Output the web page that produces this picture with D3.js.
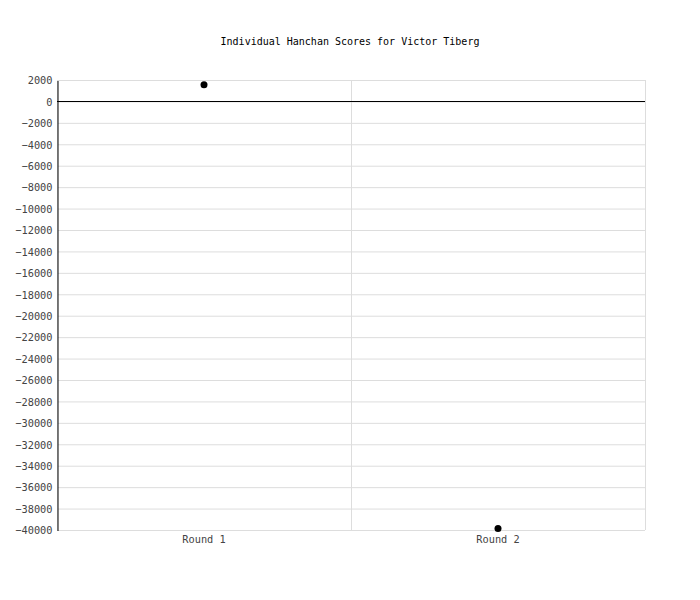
<!DOCTYPE html>
<html>
<head>
<meta charset="utf-8">
<script src="https://cdn.jsdelivr.net/npm/d3@7"></script>
<style>
  body { margin: 0; background: #fff; }
  text { font-family: "DejaVu Sans Mono", "Liberation Mono", monospace; }
</style>
</head>
<body>
<svg id="chart"></svg>
<script>
// Chart data
var rounds = ['Round 1', 'Round 2'];
var scores = [1550, -39850];
var yTicks = d3.range(-40000, 2001, 2000);

var width = 700, height = 600;
var margin = {top: 80, right: 55, bottom: 70, left: 57};

var svg = d3.select('#chart')
  .attr('width', width)
  .attr('height', height);

var x = d3.scaleBand()
  .domain(rounds)
  .range([margin.left, width - margin.right]);

var y = d3.scaleLinear()
  .domain([-40000, 2000])
  .range([height - margin.bottom, margin.top]);

// horizontal grid
svg.append('g')
  .selectAll('line')
  .data(yTicks)
  .enter()
  .append('line')
  .attr('x1', margin.left)
  .attr('x2', width - margin.right)
  .attr('y1', function(d) { return y(d) + 0.5; })
  .attr('y2', function(d) { return y(d) + 0.5; })
  .attr('stroke', '#ddd');

// vertical grid at band edges
var edges = rounds.map(function(r) { return x(r); }).concat([x.range()[1]]);
svg.append('g')
  .selectAll('line')
  .data(edges)
  .enter()
  .append('line')
  .attr('x1', function(d) { return Math.round(d) + 0.5; })
  .attr('x2', function(d) { return Math.round(d) + 0.5; })
  .attr('y1', margin.top)
  .attr('y2', height - margin.bottom)
  .attr('stroke', '#ddd');

// zero line
svg.append('line')
  .attr('x1', margin.left)
  .attr('x2', width - margin.right)
  .attr('y1', Math.round(y(0)) + 0.5)
  .attr('y2', Math.round(y(0)) + 0.5)
  .attr('stroke', '#000');

// y axis
var yAxis = svg.append('g')
  .attr('transform', 'translate(' + (margin.left + 0.5) + ',0.5)')
  .call(d3.axisLeft(y).tickValues(yTicks).tickSize(0).tickPadding(5).tickFormat(d3.format('d')));
yAxis.select('.domain').attr('stroke', '#000');
yAxis.selectAll('text')
  .attr('fill', '#444')
  .style('font-size', '10.3px');

// x axis
var xAxis = svg.append('g')
  .attr('transform', 'translate(0,' + (height - margin.bottom + 1) + ')')
  .call(d3.axisBottom(x).tickSize(0).tickPadding(5));
xAxis.select('.domain').remove();
xAxis.selectAll('text')
  .attr('fill', '#444')
  .style('font-size', '10.3px');

// points
svg.append('g')
  .selectAll('circle')
  .data(scores)
  .enter()
  .append('circle')
  .attr('cx', function(d, i) { return x(rounds[i]) + x.bandwidth() / 2; })
  .attr('cy', function(d) { return y(d); })
  .attr('r', 3.5)
  .attr('fill', '#000');

// title
svg.append('text')
  .attr('x', 350)
  .attr('y', 45)
  .attr('text-anchor', 'middle')
  .attr('fill', '#000')
  .style('font-size', '10px')
  .text('Individual Hanchan Scores for Victor Tiberg');
</script>
</body>
</html>
